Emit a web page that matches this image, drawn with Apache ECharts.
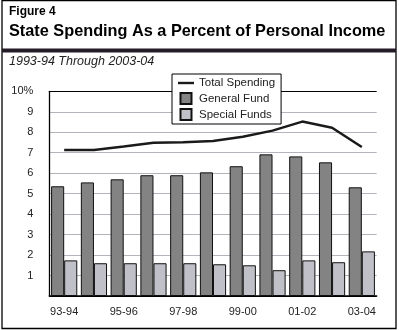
<!DOCTYPE html>
<html><head><meta charset="utf-8">
<script src="https://cdn.jsdelivr.net/npm/echarts@6/dist/echarts.min.js"></script>
<style>html,body{margin:0;padding:0;background:#fff}#c{width:399px;height:330px}</style>
</head><body><div id="c"></div>
<script>
var categories = ['93-94','94-95','95-96','96-97','97-98','98-99','99-00','00-01','01-02','02-03','03-04'];
var totalSpending = [7.13, 7.13, 7.30, 7.49, 7.51, 7.57, 7.78, 8.08, 8.52, 8.22, 7.28];
var generalFund = [5.36, 5.55, 5.70, 5.90, 5.90, 6.04, 6.34, 6.92, 6.82, 6.53, 5.31];
var specialFunds = [1.74, 1.60, 1.60, 1.60, 1.60, 1.55, 1.50, 1.26, 1.74, 1.65, 2.18];
var yTicks = [0,1,2,3,4,5,6,7,8,9,10];

var font = 'Liberation Sans, Arial, sans-serif';
var chart = echarts.init(document.getElementById('c'), null, {renderer:'canvas'});
var gridColors = yTicks.map(function(v){ return (v===10||v===0) ? '#000' : '#b4b4bc'; });
var lineIcon = 'path://M0,0L0,0M16,11L16,11M0,4.3H16V6.7H0Z';
var boxIcon = 'path://M0,0L0,0M16,11L16,11M2.5,0H13.5V11H2.5Z';
chart.setOption({
  animation:false,
  textStyle:{fontFamily:font},
  graphic:[
    {type:'rect', shape:{x:2,y:0.5,width:394,height:328}, style:{fill:'none',stroke:'#000',lineWidth:1.3}, z:0},
    {type:'rect', shape:{x:2,y:48.5,width:394,height:4}, style:{fill:'#241c28'}},
    {type:'text', left:9, top:6, style:{text:'Figure 4', font:'bold 12px '+font, fill:'#000'}},
    {type:'text', left:9, top:24, style:{text:'State Spending As a Percent of Personal Income', font:'bold 16.3px '+font, fill:'#000'}},
    {type:'text', left:9, top:55, style:{text:'1993-94 Through 2003-04', font:'italic 12.5px '+font, fill:'#222'}}
  ],
  legend:{
    orient:'vertical', left:172, top:74,
    backgroundColor:'#fff', borderColor:'#000', borderWidth:1,
    padding:[3,6,3,5], itemGap:3, itemWidth:16, itemHeight:11,
    textStyle:{fontSize:11.5, color:'#222', fontFamily:font},
    data:[{name:'Total Spending', icon:lineIcon, itemStyle:{color:'#1a1a1a', borderWidth:0}},
          {name:'General Fund', icon:boxIcon},
          {name:'Special Funds', icon:boxIcon}]
  },
  grid:{left:49.3, top:91.3, right:22.3, bottom:34},
  xAxis:{
    type:'category', data:categories,
    axisLine:{lineStyle:{color:'#000', width:1.5}},
    axisTick:{show:false},
    axisLabel:{interval:1, fontSize:11, color:'#222', margin:10, fontFamily:font}
  },
  yAxis:{
    type:'value', min:0, max:10, interval:1,
    axisLine:{show:true, lineStyle:{color:'#000', width:1.3}},
    axisTick:{show:false},
    splitLine:{lineStyle:{color:gridColors, width:1}},
    axisLabel:{fontSize:11, color:'#222', margin:16, fontFamily:font,
      formatter:function(v){ return v===0 ? '' : (v===10 ? '10%' : String(v)); }}
  },
  series:[
    {name:'General Fund', type:'bar', data:generalFund, barGap:'0%', barCategoryGap:'12%',
     itemStyle:{color:'#838383', borderColor:'#111', borderWidth:1}},
    {name:'Special Funds', type:'bar', data:specialFunds, barGap:'0%', barCategoryGap:'12%',
     itemStyle:{color:'#c0c0c8', borderColor:'#111', borderWidth:1}},
    {name:'Total Spending', type:'line', data:totalSpending, symbol:'none', showSymbol:false,
     lineStyle:{color:'#1a1a1a', width:2.5}, itemStyle:{color:'#1a1a1a'}, z:5}
  ]
});
</script></body></html>
